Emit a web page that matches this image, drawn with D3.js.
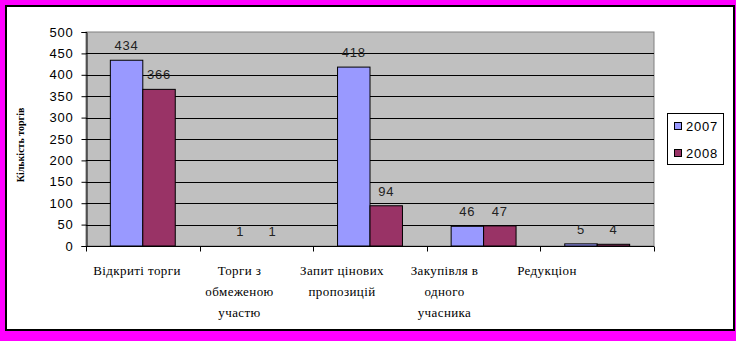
<!DOCTYPE html>
<html>
<head>
<meta charset="utf-8">
<script src="https://cdn.jsdelivr.net/npm/d3@7"></script>
<style>
  body { margin: 0; background: #ff00ff; }
  svg { display: block; }
</style>
</head>
<body>
<div id="chart"></div>
<script>
// chart values
var categories = ["Відкриті торги", "Торги з обмеженою участю", "Запит цінових пропозицій", "Закупівля в одного учасника", "Редукціон"];
var catLines = [["Відкриті торги"], ["Торги з", "обмеженою", "участю"], ["Запит цінових", "пропозицій"], ["Закупівля в", "одного", "учасника"], ["Редукціон"]];
var seriesNames = ["2007", "2008"];
var values2007 = [434, 1, 418, 46, 5];
var values2008 = [366, 1, 94, 47, 4];
var yTicks = [0, 50, 100, 150, 200, 250, 300, 350, 400, 450, 500];
var colors = ["#9999ff", "#993366"];

var SANS = "Liberation Sans";
var SERIF = "Liberation Serif";

var width = 736, height = 341;
var plot = { left: 86, right: 654, top: 32, bottom: 246 };

var svg = d3.select("#chart").append("svg")
	.attr("width", width)
	.attr("height", height);

// magenta frame with white panel
svg.append("rect").attr("x", 0).attr("y", 0).attr("width", width).attr("height", height).style("fill", "#ff00ff");
svg.append("rect").attr("x", 6).attr("y", 6).attr("width", 728).attr("height", 324)
	.style("fill", "#fff").style("stroke", "#000").style("stroke-width", 2);

var x = d3.scaleBand().domain(categories).range([plot.left, plot.right]).paddingInner(0).paddingOuter(0);
var x1 = d3.scaleBand().domain(seriesNames).range([0, x.bandwidth()]).paddingInner(0).paddingOuter(0.75);
var y = d3.scaleLinear().domain([0, 500]).range([plot.bottom, plot.top]);

// plot background
svg.append("rect")
	.attr("x", plot.left).attr("y", plot.top)
	.attr("width", plot.right - plot.left).attr("height", plot.bottom - plot.top)
	.style("fill", "#c0c0c0").style("stroke", "#808080");

// gridlines
svg.append("g").selectAll("line")
	.data(yTicks.filter(function(d) { return d > 0 && d < 500; }))
	.enter().append("line")
	.attr("x1", plot.left).attr("x2", plot.right)
	.attr("y1", function(d) { return Math.round(y(d)) + 0.5; })
	.attr("y2", function(d) { return Math.round(y(d)) + 0.5; })
	.style("stroke", "#000");

// y axis
var yAxis = svg.append("g")
	.attr("transform", "translate(" + (plot.left + 0.5) + ",0)")
	.call(d3.axisLeft(y).tickValues(yTicks).tickSize(5).tickPadding(8));
yAxis.attr("font-family", SANS).attr("font-size", 13);
yAxis.select(".domain").style("stroke", "#000");
yAxis.selectAll("line").style("stroke", "#000");
yAxis.selectAll("text")
	.style("letter-spacing", "0.8px")
	.style("fill", "#000");

// x axis
var xAxis = svg.append("g")
	.attr("transform", "translate(0," + (plot.bottom + 0.5) + ")");
xAxis.append("line").attr("x1", plot.left).attr("x2", plot.right).style("stroke", "#000");
xAxis.selectAll(".tick")
	.data(categories.concat(["end"]))
	.enter().append("line")
	.attr("x1", function(d, i) { return Math.round(plot.left + i * x.bandwidth()) + 0.5; })
	.attr("x2", function(d, i) { return Math.round(plot.left + i * x.bandwidth()) + 0.5; })
	.attr("y1", 0).attr("y2", 5)
	.style("stroke", "#000");

// bars
var data = categories.map(function(c, i) {
	return { cat: c, vals: [{ s: "2007", v: values2007[i] }, { s: "2008", v: values2008[i] }] };
});

var groups = svg.selectAll(".grp")
	.data(data)
	.enter().append("g")
	.attr("class", "grp")
	.attr("transform", function(d) { return "translate(" + x(d.cat) + ",0)"; });

groups.selectAll("rect")
	.data(function(d) { return d.vals.filter(function(v) { return v.v > 1; }); })
	.enter().append("rect")
	.attr("x", function(d) { return x1(d.s); })
	.attr("y", function(d) { return y(d.v); })
	.attr("width", x1.bandwidth())
	.attr("height", function(d) { return plot.bottom - y(d.v); })
	.style("fill", function(d) { return colors[seriesNames.indexOf(d.s)]; })
	.style("stroke", "#000")
	.style("stroke-width", 1);

groups.selectAll("text")
	.data(function(d) { return d.vals; })
	.enter().append("text")
	.text(function(d) { return d.v; })
	.attr("x", function(d) { return x1(d.s) + x1.bandwidth() / 2; })
	.attr("y", function(d) { return y(d.v) - 10; })
	.attr("text-anchor", "middle")
	.attr("font-family", SANS)
	.attr("font-size", 13)
	.style("letter-spacing", "0.8px")
	.style("fill", "#222");

// category labels (Excel draws them a bit left of the band centres)
var labelX = d3.scalePoint().domain(categories).range([137, 547]);
svg.selectAll(".cat")
	.data(categories)
	.enter().append("text")
	.attr("class", "cat")
	.attr("text-anchor", "middle")
	.attr("font-family", SERIF)
	.attr("font-size", 13)
	.style("letter-spacing", "0.4px")
	.style("fill", "#000")
	.each(function(d, i) {
		var t = d3.select(this);
		catLines[i].forEach(function(line, j) {
			t.append("tspan")
				.attr("x", labelX(d))
				.attr("y", 275 + j * 21)
				.text(line);
		});
	});

// y axis title
svg.append("text")
	.text("Кількість торгів")
	.attr("transform", "translate(24,145) rotate(-90)")
	.attr("text-anchor", "middle")
	.attr("font-family", SERIF)
	.attr("font-size", 10)
	.attr("font-weight", "bold")
	.style("fill", "#000");

// legend
var legend = svg.append("g").attr("transform", "translate(667,113)");
legend.append("rect").attr("x", 0.5).attr("y", 0.5).attr("width", 56).attr("height", 51)
	.style("fill", "#fff").style("stroke", "#000");
seriesNames.forEach(function(s, i) {
	legend.append("rect")
		.attr("x", 7.5).attr("y", 9.5 + i * 27)
		.attr("width", 7).attr("height", 7)
		.style("fill", colors[i]).style("stroke", "#000");
	legend.append("text")
		.text(s)
		.attr("x", 19).attr("y", 18 + i * 27)
		.attr("font-family", SANS)
		.attr("font-size", 13)
		.style("letter-spacing", "0.8px")
		.style("fill", "#000");
});
</script>
</body>
</html>
